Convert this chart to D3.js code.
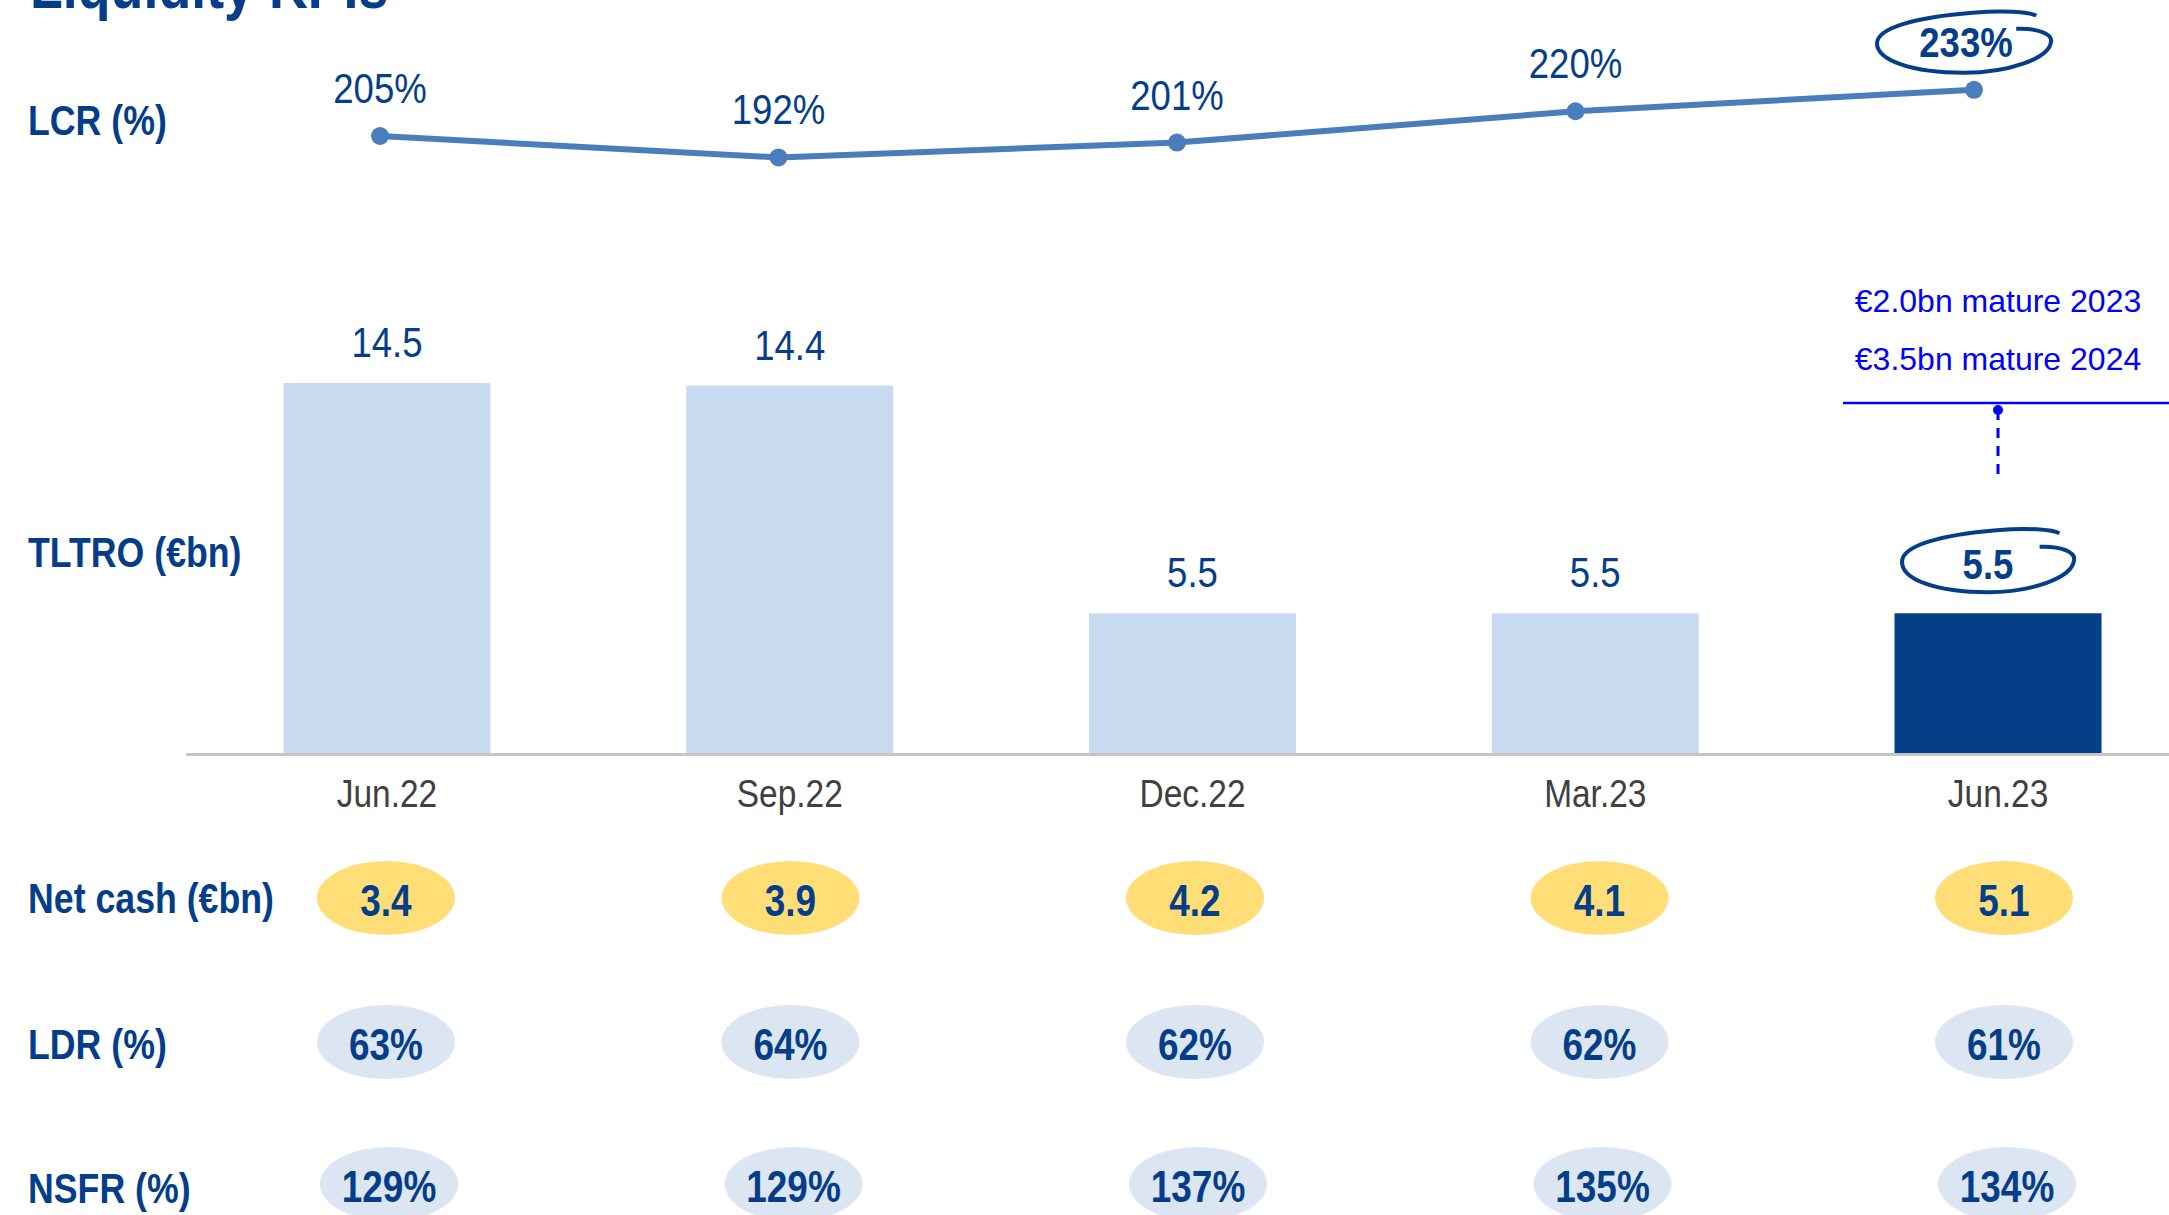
<html>
  <head>
    <title>Liquidity KPIs</title>
    <script src="https://cdnjs.cloudflare.com/ajax/libs/d3/7.8.5/d3.min.js"></script>
    <style>
      body {
        margin: 0;
        background: #fff;
      }
      svg {
        display: block;
        font-family: 'Liberation Sans', Arial, sans-serif;
      }
      .title {
        fill: #043e8a;
        font-weight: bold;
        font-size: 64px;
      }
      .row-label {
        fill: #043e8a;
        font-weight: bold;
        font-size: 42px;
      }
      .value {
        fill: #043e8a;
        font-size: 42px;
      }
      .value.bold {
        font-weight: bold;
      }
      .axis path {
        stroke: #c6c6c6;
        stroke-width: 3;
      }
      .axis text {
        fill: #404040;
        font-size: 38px;
        font-family: 'Liberation Sans', Arial, sans-serif;
      }
      .pill-text {
        fill: #043e8a;
        font-weight: bold;
        font-size: 44px;
      }
      .note {
        fill: #0000ff;
        font-size: 32px;
      }
    </style>
  </head>
  <body>
    <svg id="chart"></svg>

    <script>
      // Data
      const categories = ['Jun.22', 'Sep.22', 'Dec.22', 'Mar.23', 'Jun.23'];
      const lcr = [205, 192, 201, 220, 233];
      const tltro = [14.5, 14.4, 5.5, 5.5, 5.5];
      const netCash = [3.4, 3.9, 4.2, 4.1, 5.1];
      const ldr = [63, 64, 62, 62, 61];
      const nsfr = [129, 129, 137, 135, 134];
      const maturities = ['€2.0bn mature 2023', '€3.5bn mature 2024'];
      const rowLabels = ['LCR (%)', 'TLTRO (€bn)', 'Net cash (€bn)', 'LDR (%)', 'NSFR (%)'];

      const width = 2169;
      const height = 1215;
      const navy = '#043e8a';

      const svg = d3.select('#chart')
        .attr('width', width)
        .attr('height', height);

      // the slide uses a narrow font, so squeeze the texts a little
      function condense(sel, k) {
        sel.each(function() {
          const len = this.getComputedTextLength();
          d3.select(this)
            .attr('textLength', len * k)
            .attr('lengthAdjust', 'spacingAndGlyphs');
        });
      }

      // Title (mostly cropped at the top)
      svg.append('text')
        .attr('class', 'title')
        .attr('x', 30)
        .attr('y', 8)
        .text('Liquidity KPIs')
        .call(condense, 0.84);

      // Row labels on the left
      const rowY = [120, 552, 898, 1044, 1188];
      svg.append('g')
        .selectAll('text')
        .data(rowLabels)
        .enter().append('text')
        .attr('class', 'row-label')
        .attr('x', 28)
        .attr('y', (d, i) => rowY[i])
        .attr('dominant-baseline', 'central')
        .text(d => d)
        .call(condense, 0.85);

      // ---- LCR line ----
      const xLine = d3.scalePoint().domain(categories).range([380, 1974]);
      const yLine = d3.scaleLinear().domain([150, 250]).range([226.75, 61.75]);

      const lcrData = categories.map((c, i) => ({cat: c, v: lcr[i]}));

      svg.append('path')
        .datum(lcrData)
        .attr('fill', 'none')
        .attr('stroke', '#4a7dbb')
        .attr('stroke-width', 6)
        .attr('d', d3.line().x(d => xLine(d.cat)).y(d => yLine(d.v)));

      svg.append('g')
        .selectAll('circle')
        .data(lcrData)
        .enter().append('circle')
        .attr('cx', d => xLine(d.cat))
        .attr('cy', d => yLine(d.v))
        .attr('r', 9)
        .attr('fill', '#4a7dbb');

      svg.append('g')
        .selectAll('text')
        .data(lcrData)
        .enter().append('text')
        .attr('class', (d, i) => i === lcrData.length - 1 ? 'value bold' : 'value')
        .attr('x', (d, i) => xLine(d.cat) - (i === lcrData.length - 1 ? 8 : 0))
        .attr('y', d => yLine(d.v) - 33)
        .attr('text-anchor', 'middle')
        .text(d => d.v + '%')
        .call(condense, 0.87);

      // ---- TLTRO bars ----
      const xBar = d3.scaleBand()
        .domain(categories)
        .range([185.6, 2199.4])
        .paddingInner(0.486)
        .paddingOuter(0.243);
      const yBar = d3.scaleLinear().domain([0, 14.5]).range([754, 383]);

      const barData = categories.map((c, i) => ({cat: c, v: tltro[i]}));
      const last = categories[categories.length - 1];

      svg.append('g')
        .selectAll('rect')
        .data(barData)
        .enter().append('rect')
        .attr('x', d => xBar(d.cat))
        .attr('y', d => yBar(d.v))
        .attr('width', xBar.bandwidth())
        .attr('height', d => yBar(0) - yBar(d.v))
        .attr('fill', d => d.cat === last ? '#053f88' : '#c8daf0');

      svg.append('g')
        .selectAll('text')
        .data(barData)
        .enter().append('text')
        .attr('class', d => d.cat === last ? 'value bold' : 'value')
        .attr('x', d => xBar(d.cat) + xBar.bandwidth() / 2 - (d.cat === last ? 10 : 0))
        .attr('y', d => yBar(d.v) - (d.cat === last ? 34 : 26))
        .attr('text-anchor', 'middle')
        .text(d => d.v.toFixed(1))
        .call(condense, 0.87);

      // x axis with category labels
      svg.append('g')
        .attr('class', 'axis')
        .attr('transform', 'translate(0,' + yBar(0) + ')')
        .call(d3.axisBottom(xBar).tickSize(0).tickPadding(26))
        .call(g => g.selectAll('.tick text').attr('font-size', null).call(condense, 0.88));

      // Hand drawn loops round the latest values
      function loop(cx, cy, rx, ry) {
        const p = (u, v) => (cx + u * rx) + ',' + (cy + v * ry);
        return 'M' + p(0.6, -0.42) +
          'C' + p(0.85, -0.45) + ' ' + p(1.02, -0.25) + ' ' + p(1.0, 0.0) +
          'C' + p(0.98, 0.55) + ' ' + p(0.5, 1.0) + ' ' + p(0.0, 1.0) +
          'C' + p(-0.6, 1.0) + ' ' + p(-1.0, 0.6) + ' ' + p(-1.0, 0.05) +
          'C' + p(-1.0, -0.45) + ' ' + p(-0.55, -0.8) + ' ' + p(0.1, -0.94) +
          'C' + p(0.45, -1.02) + ' ' + p(0.75, -0.97) + ' ' + p(0.83, -0.84);
      }

      const lastLcr = lcrData[lcrData.length - 1];
      svg.append('path')
        .attr('d', loop(xLine(lastLcr.cat) - 10, yLine(lastLcr.v) - 48, 87, 31))
        .attr('fill', 'none')
        .attr('stroke', navy)
        .attr('stroke-width', 4);

      const lastBar = barData[barData.length - 1];
      const lastBarX = xBar(lastBar.cat) + xBar.bandwidth() / 2;
      svg.append('path')
        .attr('d', loop(lastBarX - 10, yBar(lastBar.v) - 53, 86, 32))
        .attr('fill', 'none')
        .attr('stroke', navy)
        .attr('stroke-width', 4);

      // Maturity note above the last bar
      const note = svg.append('g');
      note.append('line')
        .attr('x1', 1843)
        .attr('x2', width)
        .attr('y1', 403)
        .attr('y2', 403)
        .attr('stroke', '#0000ff')
        .attr('stroke-width', 2.5);
      note.append('circle')
        .attr('cx', lastBarX)
        .attr('cy', 410)
        .attr('r', 5)
        .attr('fill', '#0000ff');
      note.append('line')
        .attr('x1', lastBarX)
        .attr('x2', lastBarX)
        .attr('y1', 410)
        .attr('y2', 477)
        .attr('stroke', '#0000ff')
        .attr('stroke-width', 3)
        .attr('stroke-dasharray', '10,8');
      note.selectAll('text')
        .data(maturities)
        .enter().append('text')
        .attr('class', 'note')
        .attr('x', lastBarX)
        .attr('y', (d, i) => 312 + i * 58)
        .attr('text-anchor', 'middle')
        .text(d => d);

      // ---- Pills for net cash, LDR, NSFR ----
      const xPill = d3.scalePoint().domain(categories).range([386, 2004]);
      const pillRows = [
        {values: netCash, fmt: d => d.toFixed(1), fill: '#ffde78', y: 898, dx: 0},
        {values: ldr, fmt: d => d + '%', fill: '#dce5f2', y: 1042, dx: 0},
        {values: nsfr, fmt: d => d + '%', fill: '#dce5f2', y: 1184, dx: 3}
      ];

      pillRows.forEach(row => {
        const g = svg.append('g');
        const items = categories.map((c, i) => ({cat: c, v: row.values[i]}));

        g.selectAll('ellipse')
          .data(items)
          .enter().append('ellipse')
          .attr('cx', d => xPill(d.cat) + row.dx)
          .attr('cy', row.y)
          .attr('rx', 69)
          .attr('ry', 37)
          .attr('fill', row.fill);

        g.selectAll('text')
          .data(items)
          .enter().append('text')
          .attr('class', 'pill-text')
          .attr('x', d => xPill(d.cat) + row.dx)
          .attr('y', row.y + 2)
          .attr('text-anchor', 'middle')
          .attr('dominant-baseline', 'central')
          .text(d => row.fmt(d.v))
          .call(condense, 0.84);
      });
    </script>
  </body>
</html>
